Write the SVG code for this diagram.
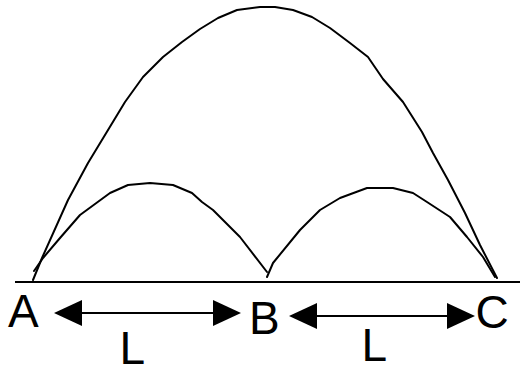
<svg xmlns="http://www.w3.org/2000/svg" width="520" height="367" viewBox="0 0 520 367">
  <style>
    .curve { fill: none; stroke: #000; stroke-width: 2; stroke-linejoin: round; stroke-linecap: round; }
    .base { stroke: #000; stroke-width: 2; }
    .dim { stroke: #000; stroke-width: 2; marker-start: url(#arrow); marker-end: url(#arrow); }
    .lbl { font-family: "Liberation Sans", Arial, sans-serif; font-size: 46px; fill: #000; }
  </style>
  <defs>
    <marker id="arrow" markerUnits="userSpaceOnUse" markerWidth="28" markerHeight="26" refX="22" refY="13" orient="auto-start-reverse">
      <path d="M0,0 L28,13 L0,26 Z" fill="#000"/>
    </marker>
  </defs>

  <g id="ground">
    <line class="base" x1="15" y1="282" x2="520" y2="282"/>
  </g>

  <g id="connectors">
    <polyline id="big-arc" class="curve" points="33,280 42,258 68,200 88,163 125,102 143,77 163,57 182,42 200,29 218,18 237,10 260,7 275,7 293,10 312,17 330,28 350,43 368,57 383,79 403,102 422,132 433,153 448,180 465,213 480,245 497,278"/>
    <polyline id="arc-ab" class="curve" points="34,271 43,258 60,238 80,215 110,193 128,185 150,183 173,185 192,193 202,202 213,210 240,237 267,272"/>
    <polyline id="arc-bc" class="curve" points="267,277 273,263 300,230 320,210 340,198 367,188 393,188 413,193 427,202 450,217 467,237 483,257 495,277"/>
    <line id="dim-ab" class="dim" x1="60" y1="313" x2="235" y2="313"/>
    <line id="dim-bc" class="dim" x1="295" y1="316" x2="469" y2="316"/>
  </g>

  <g id="node-A"><text class="lbl" x="8" y="327">A</text></g>
  <g id="node-B"><text class="lbl" x="249" y="334">B</text></g>
  <g id="node-C"><text class="lbl" x="475.5" y="328">C</text></g>
  <g id="label-L1"><text class="lbl" x="119.5" y="364">L</text></g>
  <g id="label-L2"><text class="lbl" x="361.5" y="361">L</text></g>
</svg>
